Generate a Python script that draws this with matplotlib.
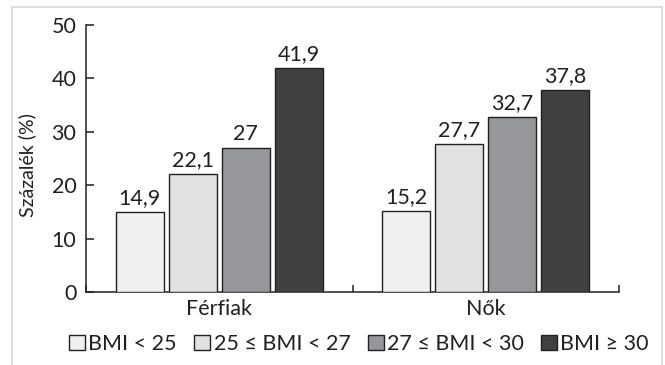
import matplotlib
matplotlib.use("Agg")
import matplotlib.pyplot as plt
import numpy as np
from matplotlib.lines import Line2D

plt.rcParams['font.family'] = ['Lato', 'DejaVu Sans']

groups = ["Férfiak", "Nők"]
series = ["BMI < 25", "25 ≤ BMI < 27", "27 ≤ BMI < 30", "BMI ≥ 30"]
values = [
    [14.9, 15.2],
    [22.1, 27.7],
    [27.0, 32.7],
    [41.9, 37.8],
]
labels = [
    ["14,9", "15,2"],
    ["22,1", "27,7"],
    ["27", "32,7"],
    ["41,9", "37,8"],
]
colors = ["#f0f0f0", "#e0e1e3", "#96979b", "#404042"]
ylabel = "Százalék (%)"
yticks = [0, 10, 20, 30, 40, 50]

ink = "#231f20"
fig = plt.figure(figsize=(6.65, 3.65), dpi=100)
ax = fig.add_axes([86/665, 1-292/365, (619-86)/665, (292-25)/365])

centers = np.arange(len(groups)) + 0.5
width = 0.18
step = 0.199
for i, (vals, lab, col) in enumerate(zip(values, labels, colors)):
    x = centers + (i - 1.5) * step
    bars = ax.bar(x, vals, width=width, color=col, edgecolor=ink, linewidth=1.0,
                  label=series[i], zorder=3)
    ax.bar_label(bars, labels=lab, padding=3, fontsize=15.5, color=ink)

ax.set_xlim(0, 2)
ax.set_ylim(0, 50)
ax.set_yticks(yticks)
ax.set_xticks([0, 1, 2])
ax.set_xticklabels([])
ax.set_xticks(centers, minor=True)
ax.set_xticklabels(groups, minor=True)
ax.tick_params(axis='x', which='minor', length=0, pad=5, labelsize=15.5, labelcolor=ink)
ax.tick_params(axis='x', which='major', direction='in', length=5, width=1.1, color=ink)
ax.tick_params(axis='y', direction='in', length=6, width=1.1, color=ink, pad=7,
               labelsize=15.5, labelcolor=ink)
for s in ['top', 'right']:
    ax.spines[s].set_visible(False)
for s in ['left', 'bottom']:
    ax.spines[s].set_linewidth(1.1)
    ax.spines[s].set_color(ink)
ax.set_ylabel(ylabel, fontsize=14, color=ink)
ax.yaxis.set_label_coords((36-86)/533, 0.475)

fig.legend(loc='center', bbox_to_anchor=(359/665, 21/365), ncol=4, frameon=False,
           fontsize=15.5, handlelength=0.75, handleheight=0.75, handletextpad=0.15,
           columnspacing=0.8, borderaxespad=0, labelcolor=ink)

# light outer frame
fc = "#d9d9d9"
fig.add_artist(Line2D([11.5/665, 11.5/665], [0, 1-7/365], color=fc, lw=1.2, transform=fig.transFigure))
fig.add_artist(Line2D([661.5/665, 661.5/665], [0, 1-7/365], color=fc, lw=1.2, transform=fig.transFigure))
fig.add_artist(Line2D([11.5/665, 661.5/665], [1-7/365, 1-7/365], color=fc, lw=1.2, transform=fig.transFigure))

fig.savefig("out.png", dpi=100)
